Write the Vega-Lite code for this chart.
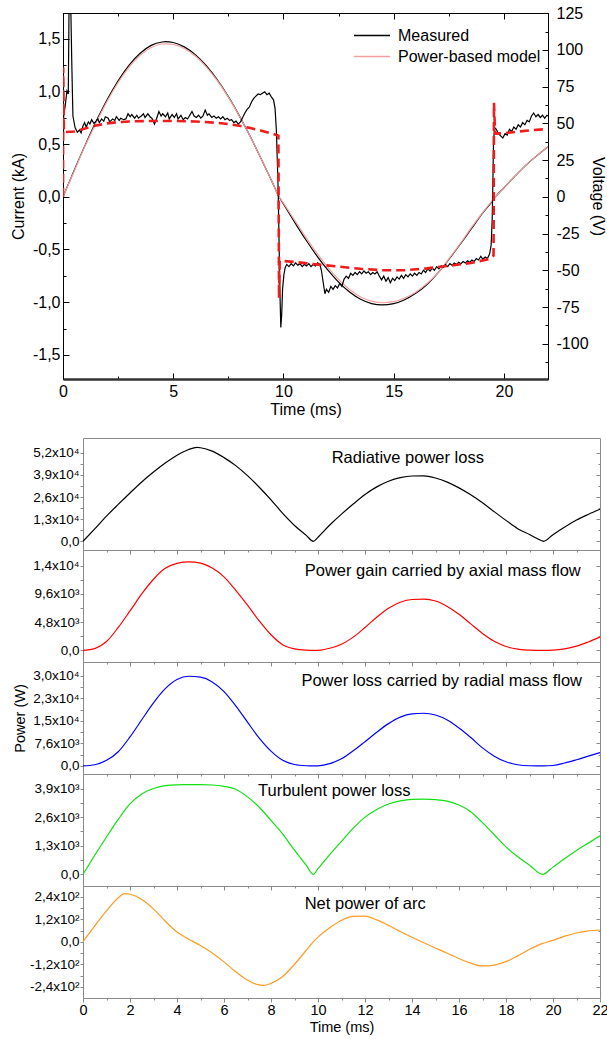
{
  "$schema": "https://vega.github.io/schema/vega-lite/v6.json",
  "padding": {"left": 9, "top": 4, "right": 0, "bottom": 0},
  "spacing": 19,
  "config": {
    "font": "Liberation Sans",
    "view": {"stroke": null},
    "axis": {"titleFontWeight": "normal", "labelColor": "#000000", "titleColor": "#000000", "grid": false, "labelFlush": false, "labelOverlap": false, "labelFont": "Liberation Sans", "titleFont": "Liberation Sans"},
    "legend": {"labelFont": "Liberation Sans", "labelFontSize": 16, "labelColor": "#000000"},
    "title": {"font": "Liberation Sans", "fontWeight": "normal", "color": "#000000"}
  },
  "datasets": {
    "cur": [
      {"t": 0, "I": 0, "src": "Measured"}, {"t": 0.5, "I": 0.247, "src": "Measured"}, {"t": 1, "I": 0.487, "src": "Measured"}, {"t": 1.5, "I": 0.713, "src": "Measured"}, {"t": 2, "I": 0.919, "src": "Measured"}, {"t": 2.5, "I": 1.099, "src": "Measured"}, {"t": 3, "I": 1.248, "src": "Measured"}, {"t": 3.5, "I": 1.36, "src": "Measured"}, {"t": 4, "I": 1.435, "src": "Measured"}, {"t": 4.5, "I": 1.467, "src": "Measured"}, {"t": 4.65, "I": 1.47, "src": "Measured"}, {"t": 5, "I": 1.462, "src": "Measured"}, {"t": 5.5, "I": 1.421, "src": "Measured"}, {"t": 6, "I": 1.347, "src": "Measured"}, {"t": 6.5, "I": 1.242, "src": "Measured"}, {"t": 7, "I": 1.108, "src": "Measured"}, {"t": 7.5, "I": 0.949, "src": "Measured"}, {"t": 8, "I": 0.767, "src": "Measured"}, {"t": 8.5, "I": 0.568, "src": "Measured"}, {"t": 9, "I": 0.355, "src": "Measured"}, {"t": 9.5, "I": 0.135, "src": "Measured"}, {"t": 9.8, "I": 0, "src": "Measured"}, {"t": 10, "I": -0.069, "src": "Measured"}, {"t": 10.5, "I": -0.239, "src": "Measured"}, {"t": 11, "I": -0.403, "src": "Measured"}, {"t": 11.5, "I": -0.555, "src": "Measured"}, {"t": 12, "I": -0.692, "src": "Measured"}, {"t": 12.5, "I": -0.809, "src": "Measured"}, {"t": 13, "I": -0.903, "src": "Measured"}, {"t": 13.5, "I": -0.972, "src": "Measured"}, {"t": 14, "I": -1.013, "src": "Measured"}, {"t": 14.47, "I": -1.026, "src": "Measured"}, {"t": 15, "I": -1.013, "src": "Measured"}, {"t": 15.5, "I": -0.976, "src": "Measured"}, {"t": 16, "I": -0.916, "src": "Measured"}, {"t": 16.5, "I": -0.835, "src": "Measured"}, {"t": 17, "I": -0.725, "src": "Measured"}, {"t": 17.5, "I": -0.595, "src": "Measured"}, {"t": 18, "I": -0.455, "src": "Measured"}, {"t": 18.5, "I": -0.31, "src": "Measured"}, {"t": 19, "I": -0.165, "src": "Measured"}, {"t": 19.5, "I": -0.035, "src": "Measured"}, {"t": 19.62, "I": 0, "src": "Measured"}, {"t": 20, "I": 0.085, "src": "Measured"}, {"t": 20.5, "I": 0.195, "src": "Measured"}, {"t": 21, "I": 0.3, "src": "Measured"}, {"t": 21.5, "I": 0.39, "src": "Measured"}, {"t": 22, "I": 0.475, "src": "Measured"},
      {"t": 0, "I": 0, "src": "Power-based model"}, {"t": 0.5, "I": 0.24, "src": "Power-based model"}, {"t": 1, "I": 0.48, "src": "Power-based model"}, {"t": 1.5, "I": 0.7, "src": "Power-based model"}, {"t": 2, "I": 0.905, "src": "Power-based model"}, {"t": 2.5, "I": 1.083, "src": "Power-based model"}, {"t": 3, "I": 1.23, "src": "Power-based model"}, {"t": 3.5, "I": 1.342, "src": "Power-based model"}, {"t": 4, "I": 1.415, "src": "Power-based model"}, {"t": 4.5, "I": 1.448, "src": "Power-based model"}, {"t": 4.7, "I": 1.45, "src": "Power-based model"}, {"t": 5, "I": 1.443, "src": "Power-based model"}, {"t": 5.5, "I": 1.405, "src": "Power-based model"}, {"t": 6, "I": 1.335, "src": "Power-based model"}, {"t": 6.5, "I": 1.232, "src": "Power-based model"}, {"t": 7, "I": 1.1, "src": "Power-based model"}, {"t": 7.5, "I": 0.944, "src": "Power-based model"}, {"t": 8, "I": 0.765, "src": "Power-based model"}, {"t": 8.5, "I": 0.567, "src": "Power-based model"}, {"t": 9, "I": 0.355, "src": "Power-based model"}, {"t": 9.5, "I": 0.135, "src": "Power-based model"}, {"t": 9.8, "I": 0, "src": "Power-based model"}, {"t": 10, "I": -0.06, "src": "Power-based model"}, {"t": 10.5, "I": -0.22, "src": "Power-based model"}, {"t": 11, "I": -0.38, "src": "Power-based model"}, {"t": 11.5, "I": -0.53, "src": "Power-based model"}, {"t": 12, "I": -0.665, "src": "Power-based model"}, {"t": 12.5, "I": -0.785, "src": "Power-based model"}, {"t": 13, "I": -0.88, "src": "Power-based model"}, {"t": 13.5, "I": -0.95, "src": "Power-based model"}, {"t": 14, "I": -0.99, "src": "Power-based model"}, {"t": 14.5, "I": -1.005, "src": "Power-based model"}, {"t": 15, "I": -0.995, "src": "Power-based model"}, {"t": 15.5, "I": -0.96, "src": "Power-based model"}, {"t": 16, "I": -0.905, "src": "Power-based model"}, {"t": 16.5, "I": -0.825, "src": "Power-based model"}, {"t": 17, "I": -0.725, "src": "Power-based model"}, {"t": 17.5, "I": -0.59, "src": "Power-based model"}, {"t": 18, "I": -0.45, "src": "Power-based model"}, {"t": 18.5, "I": -0.3, "src": "Power-based model"}, {"t": 19, "I": -0.16, "src": "Power-based model"}, {"t": 19.5, "I": -0.03, "src": "Power-based model"}, {"t": 19.62, "I": 0, "src": "Power-based model"}, {"t": 20, "I": 0.085, "src": "Power-based model"}, {"t": 20.5, "I": 0.195, "src": "Power-based model"}, {"t": 21, "I": 0.3, "src": "Power-based model"}, {"t": 21.5, "I": 0.39, "src": "Power-based model"}, {"t": 22, "I": 0.475, "src": "Power-based model"}
    ],
    "vm": [
      {"t": 0, "V": 0}, {"t": 0.03, "V": 55}, {"t": 0.1, "V": 62}, {"t": 0.18, "V": 72}, {"t": 0.24, "V": 70}, {"t": 0.28, "V": 140}, {"t": 0.34, "V": 140}, {"t": 0.4, "V": 90}, {"t": 0.45, "V": 55}, {"t": 0.55, "V": 47}, {"t": 0.65, "V": 44}, {"t": 0.75, "V": 45.5}, {"t": 0.82, "V": 43.5}, {"t": 0.9, "V": 48}, {"t": 0.98, "V": 50.5}, {"t": 1.05, "V": 47.5}, {"t": 1.15, "V": 51}, {"t": 1.22, "V": 49.5}, {"t": 1.3, "V": 52.5}, {"t": 1.4, "V": 50}, {"t": 1.5, "V": 51.5}, {"t": 1.58, "V": 53}, {"t": 1.65, "V": 50.5}, {"t": 1.75, "V": 53}, {"t": 1.85, "V": 51.5}, {"t": 1.92, "V": 54.5}, {"t": 2.05, "V": 53.5}, {"t": 2.12, "V": 51}, {"t": 2.25, "V": 53}, {"t": 2.35, "V": 52}, {"t": 2.42, "V": 54.5}, {"t": 2.55, "V": 52}, {"t": 2.62, "V": 53.5}, {"t": 2.75, "V": 52.5}, {"t": 2.85, "V": 53}, {"t": 2.95, "V": 56.5}, {"t": 3.05, "V": 54.5}, {"t": 3.12, "V": 56}, {"t": 3.25, "V": 53.5}, {"t": 3.35, "V": 55.5}, {"t": 3.42, "V": 53.5}, {"t": 3.55, "V": 55}, {"t": 3.65, "V": 56.5}, {"t": 3.72, "V": 54}, {"t": 3.85, "V": 56.5}, {"t": 3.95, "V": 54.5}, {"t": 4.05, "V": 53}, {"t": 4.15, "V": 49.5}, {"t": 4.25, "V": 53.5}, {"t": 4.35, "V": 58}, {"t": 4.45, "V": 55}, {"t": 4.52, "V": 56.5}, {"t": 4.65, "V": 54.5}, {"t": 4.75, "V": 57}, {"t": 4.82, "V": 53}, {"t": 4.95, "V": 56}, {"t": 5.05, "V": 54}, {"t": 5.15, "V": 56.5}, {"t": 5.22, "V": 53}, {"t": 5.35, "V": 55.5}, {"t": 5.45, "V": 52.5}, {"t": 5.55, "V": 54}, {"t": 5.65, "V": 53}, {"t": 5.75, "V": 55.5}, {"t": 5.85, "V": 58}, {"t": 5.95, "V": 55}, {"t": 6.05, "V": 54}, {"t": 6.15, "V": 55.5}, {"t": 6.25, "V": 53.5}, {"t": 6.35, "V": 55}, {"t": 6.45, "V": 59}, {"t": 6.55, "V": 55.5}, {"t": 6.62, "V": 56.5}, {"t": 6.75, "V": 54}, {"t": 6.85, "V": 55}, {"t": 6.95, "V": 53.5}, {"t": 7.05, "V": 54.5}, {"t": 7.15, "V": 53}, {"t": 7.25, "V": 54.5}, {"t": 7.35, "V": 52.5}, {"t": 7.45, "V": 53.5}, {"t": 7.55, "V": 52}, {"t": 7.65, "V": 52.5}, {"t": 7.75, "V": 50.5}, {"t": 7.85, "V": 51.5}, {"t": 7.95, "V": 49.5}, {"t": 8.05, "V": 51}, {"t": 8.15, "V": 54}, {"t": 8.25, "V": 57}, {"t": 8.35, "V": 59.5}, {"t": 8.45, "V": 61}, {"t": 8.55, "V": 64.5}, {"t": 8.65, "V": 67}, {"t": 8.75, "V": 68.5}, {"t": 8.85, "V": 70}, {"t": 8.95, "V": 69.5}, {"t": 9.05, "V": 70.5}, {"t": 9.15, "V": 71.5}, {"t": 9.25, "V": 69.5}, {"t": 9.35, "V": 70.5}, {"t": 9.45, "V": 68}, {"t": 9.55, "V": 66}, {"t": 9.62, "V": 60}, {"t": 9.68, "V": 45}, {"t": 9.72, "V": 25}, {"t": 9.76, "V": 5}, {"t": 9.8, "V": -30}, {"t": 9.84, "V": -65}, {"t": 9.88, "V": -89}, {"t": 9.92, "V": -80}, {"t": 9.96, "V": -63}, {"t": 10.02, "V": -53}, {"t": 10.08, "V": -48}, {"t": 10.15, "V": -46}, {"t": 10.25, "V": -47.5}, {"t": 10.35, "V": -45.5}, {"t": 10.45, "V": -47}, {"t": 10.55, "V": -45}, {"t": 10.65, "V": -46.5}, {"t": 10.75, "V": -45.5}, {"t": 10.85, "V": -47.5}, {"t": 10.95, "V": -46}, {"t": 11.05, "V": -47}, {"t": 11.15, "V": -45.5}, {"t": 11.25, "V": -47.5}, {"t": 11.35, "V": -46}, {"t": 11.45, "V": -47}, {"t": 11.55, "V": -45}, {"t": 11.65, "V": -46}, {"t": 11.72, "V": -50}, {"t": 11.8, "V": -58}, {"t": 11.88, "V": -66}, {"t": 11.95, "V": -63}, {"t": 12.05, "V": -65}, {"t": 12.15, "V": -61}, {"t": 12.25, "V": -63}, {"t": 12.35, "V": -60.5}, {"t": 12.45, "V": -62}, {"t": 12.55, "V": -59}, {"t": 12.65, "V": -61}, {"t": 12.75, "V": -56}, {"t": 12.85, "V": -54}, {"t": 12.95, "V": -55.5}, {"t": 13.05, "V": -52}, {"t": 13.15, "V": -53.5}, {"t": 13.25, "V": -51.5}, {"t": 13.35, "V": -53}, {"t": 13.45, "V": -51}, {"t": 13.55, "V": -52.5}, {"t": 13.65, "V": -50.5}, {"t": 13.75, "V": -52}, {"t": 13.85, "V": -51}, {"t": 13.95, "V": -53}, {"t": 14.05, "V": -51.5}, {"t": 14.15, "V": -52.5}, {"t": 14.25, "V": -51}, {"t": 14.35, "V": -54}, {"t": 14.45, "V": -56.5}, {"t": 14.55, "V": -54}, {"t": 14.65, "V": -57.5}, {"t": 14.75, "V": -55}, {"t": 14.85, "V": -58.5}, {"t": 14.95, "V": -55.5}, {"t": 15.05, "V": -57}, {"t": 15.15, "V": -54.5}, {"t": 15.25, "V": -56}, {"t": 15.35, "V": -53.5}, {"t": 15.45, "V": -55.5}, {"t": 15.55, "V": -53}, {"t": 15.65, "V": -54.5}, {"t": 15.75, "V": -52.5}, {"t": 15.85, "V": -54}, {"t": 15.95, "V": -52}, {"t": 16.05, "V": -53.5}, {"t": 16.15, "V": -51.5}, {"t": 16.25, "V": -52.5}, {"t": 16.35, "V": -50}, {"t": 16.45, "V": -51.5}, {"t": 16.55, "V": -49}, {"t": 16.65, "V": -50.5}, {"t": 16.75, "V": -48.5}, {"t": 16.85, "V": -50}, {"t": 16.95, "V": -47.5}, {"t": 17.05, "V": -49}, {"t": 17.15, "V": -47}, {"t": 17.25, "V": -48}, {"t": 17.35, "V": -46}, {"t": 17.45, "V": -47.5}, {"t": 17.55, "V": -45.5}, {"t": 17.65, "V": -46.5}, {"t": 17.75, "V": -45}, {"t": 17.85, "V": -46}, {"t": 17.95, "V": -44.5}, {"t": 18.05, "V": -45.5}, {"t": 18.15, "V": -44}, {"t": 18.25, "V": -45}, {"t": 18.35, "V": -43.5}, {"t": 18.45, "V": -44.5}, {"t": 18.55, "V": -43}, {"t": 18.65, "V": -44}, {"t": 18.75, "V": -42}, {"t": 18.85, "V": -43}, {"t": 18.95, "V": -40.5}, {"t": 19.05, "V": -42.5}, {"t": 19.15, "V": -41}, {"t": 19.25, "V": -42}, {"t": 19.35, "V": -39}, {"t": 19.42, "V": -33}, {"t": 19.47, "V": -15}, {"t": 19.5, "V": 10}, {"t": 19.53, "V": 38}, {"t": 19.58, "V": 47}, {"t": 19.65, "V": 46}, {"t": 19.75, "V": 43}, {"t": 19.85, "V": 41.5}, {"t": 19.95, "V": 40}, {"t": 20.05, "V": 43}, {"t": 20.15, "V": 42}, {"t": 20.25, "V": 46}, {"t": 20.35, "V": 44.5}, {"t": 20.45, "V": 47.5}, {"t": 20.55, "V": 46}, {"t": 20.65, "V": 49}, {"t": 20.75, "V": 47.5}, {"t": 20.85, "V": 50.5}, {"t": 20.95, "V": 49}, {"t": 21.05, "V": 52}, {"t": 21.15, "V": 51}, {"t": 21.25, "V": 55}, {"t": 21.35, "V": 57}, {"t": 21.45, "V": 54.5}, {"t": 21.55, "V": 56}, {"t": 21.65, "V": 54}, {"t": 21.75, "V": 55.5}, {"t": 21.85, "V": 53.5}, {"t": 21.95, "V": 55.5}, {"t": 22, "V": 55}
    ],
    "vp": [
      {"t": 0, "V": 0}, {"t": 0.01, "V": 88}, {"t": 0.04, "V": 44}, {"t": 0.5, "V": 44.5}, {"t": 1, "V": 46.5}, {"t": 1.5, "V": 48.5}, {"t": 2, "V": 50}, {"t": 2.5, "V": 50.8}, {"t": 3, "V": 51.3}, {"t": 4, "V": 51.6}, {"t": 5, "V": 51.6}, {"t": 6, "V": 51.3}, {"t": 7, "V": 50.3}, {"t": 7.5, "V": 49.5}, {"t": 8, "V": 48.3}, {"t": 8.5, "V": 46.8}, {"t": 9, "V": 45}, {"t": 9.5, "V": 43}, {"t": 9.77, "V": 41.6}, {"t": 9.8, "V": -69}, {"t": 9.83, "V": -43.5}, {"t": 10.5, "V": -44.3}, {"t": 11.5, "V": -46}, {"t": 12.5, "V": -47.5}, {"t": 13.5, "V": -49}, {"t": 14.5, "V": -50}, {"t": 15.5, "V": -50}, {"t": 16.5, "V": -48.7}, {"t": 17.5, "V": -47}, {"t": 18.5, "V": -45}, {"t": 19.3, "V": -42.5}, {"t": 19.53, "V": -40}, {"t": 19.55, "V": 64}, {"t": 19.6, "V": 43}, {"t": 20, "V": 43.3}, {"t": 21, "V": 45}, {"t": 22, "V": 46.2}
    ],
    "rad": [
      {"t": 0, "P": 0}, {"t": 0.5, "P": 7300}, {"t": 1, "P": 14800}, {"t": 1.5, "P": 21700}, {"t": 2, "P": 28400}, {"t": 2.5, "P": 34900}, {"t": 3, "P": 40700}, {"t": 3.5, "P": 46000}, {"t": 4, "P": 50600}, {"t": 4.5, "P": 54000}, {"t": 4.85, "P": 55200}, {"t": 5, "P": 55000}, {"t": 5.5, "P": 53000}, {"t": 6, "P": 49200}, {"t": 6.5, "P": 44500}, {"t": 7, "P": 38600}, {"t": 7.5, "P": 31800}, {"t": 8, "P": 24400}, {"t": 8.5, "P": 16400}, {"t": 9, "P": 9300}, {"t": 9.5, "P": 3500}, {"t": 9.8, "P": 0}, {"t": 10, "P": 2400}, {"t": 10.5, "P": 9600}, {"t": 11, "P": 16000}, {"t": 11.5, "P": 21900}, {"t": 12, "P": 27500}, {"t": 12.5, "P": 32000}, {"t": 13, "P": 35300}, {"t": 13.5, "P": 37400}, {"t": 14, "P": 38400}, {"t": 14.5, "P": 38500}, {"t": 15, "P": 37200}, {"t": 15.5, "P": 34800}, {"t": 16, "P": 31400}, {"t": 16.5, "P": 27300}, {"t": 17, "P": 22600}, {"t": 17.5, "P": 17400}, {"t": 18, "P": 12300}, {"t": 18.5, "P": 7400}, {"t": 19, "P": 4000}, {"t": 19.5, "P": 500}, {"t": 19.6, "P": 0}, {"t": 20, "P": 3900}, {"t": 20.5, "P": 8400}, {"t": 21, "P": 12500}, {"t": 21.5, "P": 15800}, {"t": 22, "P": 18800}
    ],
    "axl": [
      {"t": 0, "P": 0}, {"t": 0.5, "P": 300}, {"t": 1, "P": 1500}, {"t": 1.5, "P": 3900}, {"t": 2, "P": 6700}, {"t": 2.5, "P": 9600}, {"t": 3, "P": 12100}, {"t": 3.5, "P": 13950}, {"t": 4, "P": 14800}, {"t": 4.5, "P": 15050}, {"t": 5, "P": 14850}, {"t": 5.5, "P": 14000}, {"t": 6, "P": 12500}, {"t": 6.5, "P": 10200}, {"t": 7, "P": 7700}, {"t": 7.5, "P": 5000}, {"t": 8, "P": 2650}, {"t": 8.5, "P": 950}, {"t": 9, "P": 250}, {"t": 9.5, "P": 30}, {"t": 9.8, "P": 0}, {"t": 10, "P": 10}, {"t": 10.5, "P": 360}, {"t": 11, "P": 1050}, {"t": 11.5, "P": 2250}, {"t": 12, "P": 3890}, {"t": 12.5, "P": 5630}, {"t": 13, "P": 7170}, {"t": 13.5, "P": 8190}, {"t": 14, "P": 8650}, {"t": 14.5, "P": 8700}, {"t": 15, "P": 8400}, {"t": 15.5, "P": 7475}, {"t": 16, "P": 6140}, {"t": 16.5, "P": 4500}, {"t": 17, "P": 2870}, {"t": 17.5, "P": 1540}, {"t": 18, "P": 665}, {"t": 18.5, "P": 205}, {"t": 19, "P": 30}, {"t": 19.6, "P": 0}, {"t": 20, "P": 41}, {"t": 20.5, "P": 256}, {"t": 21, "P": 717}, {"t": 21.5, "P": 1430}, {"t": 22, "P": 2250}
    ],
    "radl": [
      {"t": 0, "P": 0}, {"t": 0.5, "P": 400}, {"t": 1, "P": 1900}, {"t": 1.5, "P": 4800}, {"t": 2, "P": 9800}, {"t": 2.5, "P": 15600}, {"t": 3, "P": 21300}, {"t": 3.5, "P": 26100}, {"t": 4, "P": 29200}, {"t": 4.5, "P": 30300}, {"t": 5, "P": 30000}, {"t": 5.5, "P": 28400}, {"t": 6, "P": 25100}, {"t": 6.5, "P": 20300}, {"t": 7, "P": 14800}, {"t": 7.5, "P": 9400}, {"t": 8, "P": 5000}, {"t": 8.5, "P": 1900}, {"t": 9, "P": 500}, {"t": 9.5, "P": 60}, {"t": 9.8, "P": 0}, {"t": 10, "P": 50}, {"t": 10.5, "P": 800}, {"t": 11, "P": 2400}, {"t": 11.5, "P": 5100}, {"t": 12, "P": 8200}, {"t": 12.5, "P": 11400}, {"t": 13, "P": 14300}, {"t": 13.5, "P": 16500}, {"t": 14, "P": 17600}, {"t": 14.5, "P": 17800}, {"t": 15, "P": 17200}, {"t": 15.5, "P": 15500}, {"t": 16, "P": 12800}, {"t": 16.5, "P": 9600}, {"t": 17, "P": 6100}, {"t": 17.5, "P": 3300}, {"t": 18, "P": 1400}, {"t": 18.5, "P": 400}, {"t": 19, "P": 60}, {"t": 19.6, "P": 0}, {"t": 20, "P": 150}, {"t": 20.5, "P": 1000}, {"t": 21, "P": 2100}, {"t": 21.5, "P": 3300}, {"t": 22, "P": 4500}
    ],
    "turb": [
      {"t": 0, "P": 0}, {"t": 0.5, "P": 870}, {"t": 1, "P": 1700}, {"t": 1.5, "P": 2500}, {"t": 2, "P": 3200}, {"t": 2.5, "P": 3650}, {"t": 3, "P": 3900}, {"t": 3.5, "P": 4030}, {"t": 4, "P": 4070}, {"t": 4.5, "P": 4075}, {"t": 5, "P": 4075}, {"t": 5.5, "P": 4060}, {"t": 6, "P": 4000}, {"t": 6.5, "P": 3870}, {"t": 7, "P": 3520}, {"t": 7.5, "P": 3050}, {"t": 8, "P": 2450}, {"t": 8.5, "P": 1830}, {"t": 9, "P": 1100}, {"t": 9.5, "P": 420}, {"t": 9.8, "P": 0}, {"t": 10, "P": 260}, {"t": 10.5, "P": 900}, {"t": 11, "P": 1500}, {"t": 11.5, "P": 2100}, {"t": 12, "P": 2600}, {"t": 12.5, "P": 2950}, {"t": 13, "P": 3200}, {"t": 13.5, "P": 3340}, {"t": 14, "P": 3410}, {"t": 14.5, "P": 3420}, {"t": 15, "P": 3400}, {"t": 15.5, "P": 3330}, {"t": 16, "P": 3150}, {"t": 16.5, "P": 2850}, {"t": 17, "P": 2350}, {"t": 17.5, "P": 1800}, {"t": 18, "P": 1250}, {"t": 18.5, "P": 800}, {"t": 19, "P": 420}, {"t": 19.56, "P": 0}, {"t": 20, "P": 330}, {"t": 20.5, "P": 720}, {"t": 21, "P": 1090}, {"t": 21.5, "P": 1420}, {"t": 22, "P": 1750}
    ],
    "net": [
      {"t": 0, "P": 0}, {"t": 0.5, "P": 85}, {"t": 1, "P": 165}, {"t": 1.5, "P": 235}, {"t": 1.75, "P": 257}, {"t": 2, "P": 254}, {"t": 2.5, "P": 226}, {"t": 3, "P": 176}, {"t": 3.5, "P": 110}, {"t": 4, "P": 52}, {"t": 4.5, "P": 14}, {"t": 5, "P": -20}, {"t": 5.5, "P": -60}, {"t": 6, "P": -107}, {"t": 6.5, "P": -160}, {"t": 7, "P": -205}, {"t": 7.5, "P": -230}, {"t": 7.7, "P": -233}, {"t": 8, "P": -222}, {"t": 8.5, "P": -185}, {"t": 9, "P": -120}, {"t": 9.5, "P": -45}, {"t": 9.8, "P": 0}, {"t": 10, "P": 25}, {"t": 10.5, "P": 75}, {"t": 11, "P": 115}, {"t": 11.5, "P": 136}, {"t": 12, "P": 137}, {"t": 12.5, "P": 117}, {"t": 13, "P": 88}, {"t": 13.5, "P": 55}, {"t": 14, "P": 24}, {"t": 14.5, "P": -5}, {"t": 15, "P": -33}, {"t": 15.5, "P": -61}, {"t": 16, "P": -89}, {"t": 16.5, "P": -114}, {"t": 17, "P": -129}, {"t": 17.5, "P": -124}, {"t": 18, "P": -106}, {"t": 18.5, "P": -75}, {"t": 19, "P": -40}, {"t": 19.5, "P": -11}, {"t": 20, "P": 8}, {"t": 20.5, "P": 30}, {"t": 21, "P": 47}, {"t": 21.5, "P": 58}, {"t": 22, "P": 63}
    ]
  },
  "vconcat": [
    {
      "width": 485,
      "height": 366,
      "view": {"stroke": "#000000", "strokeWidth": 1},
      "layer": [
        {
          "data": {"name": "cur"},
          "mark": {"type": "line", "strokeWidth": 1.2, "interpolate": "monotone", "clip": true},
          "encoding": {
            "x": {"field": "t", "type": "quantitative", "scale": {"domain": [0, 22], "nice": false, "zero": false},
              "axis": {"orient": "bottom", "values": [0, 2.5, 5, 7.5, 10, 12.5, 15, 17.5, 20], "labelExpr": "datum.value % 5 == 0 ? format(datum.value, 'd') : ''", "tickSize": {"condition": {"test": "datum.value % 5 == 0", "value": -6}, "value": -3}, "tickColor": "#000000", "labelPadding": 10, "labelFontSize": 16, "title": "Time (ms)", "titleFontSize": 16, "titlePadding": -1, "domainColor": "#333333", "domainWidth": 2.5}},
            "y": {"field": "I", "type": "quantitative", "scale": {"domain": [-1.728, 1.742], "nice": false, "zero": false},
              "axis": {"orient": "left", "values": [-1.5, -1.25, -1, -0.75, -0.5, -0.25, 0, 0.25, 0.5, 0.75, 1, 1.25, 1.5], "labelExpr": "abs(datum.value * 2 - round(datum.value * 2)) < 0.01 ? replace(replace(format(datum.value, '.1f'), '.', ','), '\u2212', '-') : ''", "tickSize": {"condition": {"test": "abs(datum.value * 2 - round(datum.value * 2)) < 0.01", "value": -6}, "value": -3}, "tickColor": "#000000", "domainColor": "#000000", "labelPadding": 9, "labelFontSize": 16, "title": "Current (kA)", "titleFontSize": 16, "titlePadding": 6}},
            "color": {"field": "src", "type": "nominal", "scale": {"domain": ["Measured", "Power-based model"], "range": ["#000000", "#f5a0a0"]},
              "legend": {"orient": "none", "legendX": 298, "legendY": 11.5, "title": null, "symbolType": "M-1.8,0H1.8", "symbolSize": 400, "symbolStrokeWidth": 1.3, "symbolFillColor": "transparent", "labelFontSize": 16, "labelOffset": 15, "rowPadding": 2}}
          }
        },
        {
          "encoding": {
            "x": {"field": "t", "type": "quantitative", "scale": {"domain": [0, 22], "nice": false, "zero": false},
              "axis": {"orient": "top", "values": [0, 2.5, 5, 7.5, 10, 12.5, 15, 17.5, 20], "labels": false, "domain": false, "title": null, "tickColor": "#000000", "tickSize": {"condition": {"test": "datum.value % 5 == 0", "value": -6}, "value": -3}}},
            "y": {"field": "V", "type": "quantitative", "scale": {"domain": [-124, 125.1], "nice": false, "zero": false},
              "axis": {"orient": "right", "values": [-125, -112.5, -100, -87.5, -75, -62.5, -50, -37.5, -25, -12.5, 0, 12.5, 25, 37.5, 50, 62.5, 75, 87.5, 100, 112.5, 125], "labelExpr": "datum.value % 25 == 0 ? replace(format(datum.value, 'd'), '\u2212', '-') : ''", "tickSize": {"condition": {"test": "datum.value % 25 == 0", "value": -6}, "value": -3}, "tickColor": "#000000", "domainColor": "#000000", "labelPadding": 14, "labelFontSize": 16, "title": "Voltage (V)", "titleFontSize": 16, "titlePadding": 1}}
          },
          "layer": [
            {"data": {"name": "vm"}, "mark": {"type": "line", "color": "#000000", "strokeWidth": 1.2, "clip": true}},
            {"data": {"name": "vp"}, "mark": {"type": "line", "color": "#f01c1c", "strokeWidth": 2.6, "strokeDash": [9, 5], "clip": true}}
          ]
        }
      ],
      "resolve": {"scale": {"y": "independent"}, "axis": {"x": "independent", "y": "independent"}}
    },
    {
      "spacing": 0,
      "bounds": "flush",
      "hconcat": [
        {
          "width": 20, "height": 10,
          "data": {"values": [{"a": 0}]},
          "mark": {"type": "point", "opacity": 0},
          "encoding": {}
        },
        {
          "spacing": 0,
          "bounds": "flush",
          "vconcat": [
            {
              "width": 517, "height": 112,
              "view": {"stroke": "#8a8a8a"},
              "title": {"text": "Radiative power loss", "orient": "top", "anchor": "start", "frame": "group", "offset": -28.5, "dx": 248.7, "fontSize": 16.5},
              "data": {"name": "rad"},
              "encoding": {"x": {"field": "t", "type": "quantitative", "scale": {"domain": [0, 22], "nice": false, "zero": false},
                "axis": {"orient": "bottom", "values": [0,1,2,3,4,5,6,7,8,9,10,11,12,13,14,15,16,17,18,19,20,21,22], "labels": false, "domain": false, "title": null, "tickColor": "#8a8a8a", "tickSize": {"condition": {"test": "datum.value % 2 == 0", "value": 4}, "value": 2}}}},
              "layer": [
                {"mark": {"type": "line", "color": "#000000", "strokeWidth": 1.2, "interpolate": "monotone"},
                 "encoding": {"y": {"field": "P", "type": "quantitative", "scale": {"domain": [-5120, 60740], "nice": false, "zero": false},
                   "axis": {"orient": "left", "values": [0, 6500, 13000, 19500, 26000, 32500, 39000, 45500, 52000], "labelExpr": "indexof([0, 13000, 26000, 39000, 52000], datum.value) < 0 ? '' : datum.value == 0 ? '0,0' : (datum.value < 0 ? '-' : '') + replace(format(abs(datum.value) / pow(10, floor(log(abs(datum.value)) / LN10)), '.1f'), '.', ',') + 'x10' + (floor(log(abs(datum.value)) / LN10) == 2 ? '²' : floor(log(abs(datum.value)) / LN10) == 3 ? '³' : '⁴')", "tickSize": 3, "tickColor": "#8a8a8a", "domain": false, "labelPadding": 1, "labelFontSize": 13.5, "title": null}}}},
                {"mark": {"type": "line", "opacity": 0},
                 "encoding": {"y": {"field": "P", "type": "quantitative", "axis": {"orient": "right", "values": [0, 6500, 13000, 19500, 26000, 32500, 39000, 45500, 52000], "labels": false, "domain": false, "title": null, "tickColor": "#8a8a8a", "tickSize": {"condition": {"test": "indexof([0, 13000, 26000, 39000, 52000], datum.value) >= 0", "value": -4}, "value": -2}}}}}
              ],
              "resolve": {"axis": {"y": "independent"}}
            },
            {
              "width": 517, "height": 112,
              "view": {"stroke": "#8a8a8a"},
              "title": {"text": "Power gain carried by axial mass flow", "orient": "top", "anchor": "start", "frame": "group", "offset": -29.5, "dx": 221.7, "fontSize": 16.5},
              "data": {"name": "axl"},
              "encoding": {"x": {"field": "t", "type": "quantitative", "scale": {"domain": [0, 22], "nice": false, "zero": false},
                "axis": {"orient": "bottom", "values": [0,1,2,3,4,5,6,7,8,9,10,11,12,13,14,15,16,17,18,19,20,21,22], "labels": false, "domain": false, "title": null, "tickColor": "#8a8a8a", "tickSize": {"condition": {"test": "datum.value % 2 == 0", "value": 4}, "value": 2}}}},
              "layer": [
                {"mark": {"type": "line", "color": "#ff0000", "strokeWidth": 1.2, "interpolate": "monotone"},
                 "encoding": {"y": {"field": "P", "type": "quantitative", "scale": {"domain": [-1980, 17070], "nice": false, "zero": false},
                   "axis": {"orient": "left", "values": [0, 2400, 4800, 7200, 9600, 12000, 14400], "labelExpr": "indexof([0, 4800, 9600, 14400], datum.value) < 0 ? '' : datum.value == 0 ? '0,0' : (datum.value < 0 ? '-' : '') + replace(format(abs(datum.value) / pow(10, floor(log(abs(datum.value)) / LN10)), '.1f'), '.', ',') + 'x10' + (floor(log(abs(datum.value)) / LN10) == 2 ? '²' : floor(log(abs(datum.value)) / LN10) == 3 ? '³' : '⁴')", "tickSize": 3, "tickColor": "#8a8a8a", "domain": false, "labelPadding": 1, "labelFontSize": 13.5, "title": null}}}},
                {"mark": {"type": "line", "opacity": 0},
                 "encoding": {"y": {"field": "P", "type": "quantitative", "axis": {"orient": "right", "values": [0, 2400, 4800, 7200, 9600, 12000, 14400], "labels": false, "domain": false, "title": null, "tickColor": "#8a8a8a", "tickSize": {"condition": {"test": "indexof([0, 4800, 9600, 14400], datum.value) >= 0", "value": -4}, "value": -2}}}}}
              ],
              "resolve": {"axis": {"y": "independent"}}
            },
            {
              "width": 517, "height": 112,
              "view": {"stroke": "#8a8a8a"},
              "title": {"text": "Power loss carried by radial mass flow", "orient": "top", "anchor": "start", "frame": "group", "offset": -27.5, "dx": 218.4, "fontSize": 16.5},
              "data": {"name": "radl"},
              "encoding": {"x": {"field": "t", "type": "quantitative", "scale": {"domain": [0, 22], "nice": false, "zero": false},
                "axis": {"orient": "bottom", "values": [0,1,2,3,4,5,6,7,8,9,10,11,12,13,14,15,16,17,18,19,20,21,22], "labels": false, "domain": false, "title": null, "tickColor": "#8a8a8a", "tickSize": {"condition": {"test": "datum.value % 2 == 0", "value": 4}, "value": 2}}}},
              "layer": [
                {"mark": {"type": "line", "color": "#0000ff", "strokeWidth": 1.2, "interpolate": "monotone"},
                 "encoding": {"y": {"field": "P", "type": "quantitative", "scale": {"domain": [-2720, 35120], "nice": false, "zero": false},
                   "axis": {"orient": "left", "values": [0, 3800, 7600, 11400, 15200, 19000, 22800, 26600, 30400], "labelExpr": "indexof([0, 7600, 15200, 22800, 30400], datum.value) < 0 ? '' : datum.value == 0 ? '0,0' : (datum.value < 0 ? '-' : '') + replace(format(abs(datum.value) / pow(10, floor(log(abs(datum.value)) / LN10)), '.1f'), '.', ',') + 'x10' + (floor(log(abs(datum.value)) / LN10) == 2 ? '²' : floor(log(abs(datum.value)) / LN10) == 3 ? '³' : '⁴')", "tickSize": 3, "tickColor": "#8a8a8a", "domain": false, "labelPadding": 1, "labelFontSize": 13.5, "title": "Power (W)", "titleFontSize": 14.5, "titlePadding": 5}}}},
                {"mark": {"type": "line", "opacity": 0},
                 "encoding": {"y": {"field": "P", "type": "quantitative", "axis": {"orient": "right", "values": [0, 3800, 7600, 11400, 15200, 19000, 22800, 26600, 30400], "labels": false, "domain": false, "title": null, "tickColor": "#8a8a8a", "tickSize": {"condition": {"test": "indexof([0, 7600, 15200, 22800, 30400], datum.value) >= 0", "value": -4}, "value": -2}}}}}
              ],
              "resolve": {"axis": {"y": "independent"}}
            },
            {
              "width": 517, "height": 112,
              "view": {"stroke": "#8a8a8a"},
              "title": {"text": "Turbulent power loss", "orient": "top", "anchor": "start", "frame": "group", "offset": -25.5, "dx": 175, "fontSize": 16.5},
              "data": {"name": "turb"},
              "encoding": {"x": {"field": "t", "type": "quantitative", "scale": {"domain": [0, 22], "nice": false, "zero": false},
                "axis": {"orient": "bottom", "values": [0,1,2,3,4,5,6,7,8,9,10,11,12,13,14,15,16,17,18,19,20,21,22], "labels": false, "domain": false, "title": null, "tickColor": "#8a8a8a", "tickSize": {"condition": {"test": "datum.value % 2 == 0", "value": 4}, "value": 2}}}},
              "layer": [
                {"mark": {"type": "line", "color": "#10e010", "strokeWidth": 1.2, "interpolate": "monotone"},
                 "encoding": {"y": {"field": "P", "type": "quantitative", "scale": {"domain": [-527, 4560], "nice": false, "zero": false},
                   "axis": {"orient": "left", "values": [0, 650, 1300, 1950, 2600, 3250, 3900], "labelExpr": "indexof([0, 1300, 2600, 3900], datum.value) < 0 ? '' : datum.value == 0 ? '0,0' : (datum.value < 0 ? '-' : '') + replace(format(abs(datum.value) / pow(10, floor(log(abs(datum.value)) / LN10)), '.1f'), '.', ',') + 'x10' + (floor(log(abs(datum.value)) / LN10) == 2 ? '²' : floor(log(abs(datum.value)) / LN10) == 3 ? '³' : '⁴')", "tickSize": 3, "tickColor": "#8a8a8a", "domain": false, "labelPadding": 1, "labelFontSize": 13.5, "title": null}}}},
                {"mark": {"type": "line", "opacity": 0},
                 "encoding": {"y": {"field": "P", "type": "quantitative", "axis": {"orient": "right", "values": [0, 650, 1300, 1950, 2600, 3250, 3900], "labels": false, "domain": false, "title": null, "tickColor": "#8a8a8a", "tickSize": {"condition": {"test": "indexof([0, 1300, 2600, 3900], datum.value) >= 0", "value": -4}, "value": -2}}}}}
              ],
              "resolve": {"axis": {"y": "independent"}}
            },
            {
              "width": 517, "height": 112,
              "view": {"stroke": "#8a8a8a"},
              "title": {"text": "Net power of arc", "orient": "top", "anchor": "start", "frame": "group", "offset": -26.5, "dx": 221.7, "fontSize": 16.5},
              "data": {"name": "net"},
              "encoding": {"x": {"field": "t", "type": "quantitative", "scale": {"domain": [0, 22], "nice": false, "zero": false},
                "axis": {"orient": "bottom", "values": [0,1,2,3,4,5,6,7,8,9,10,11,12,13,14,15,16,17,18,19,20,21,22], "labelExpr": "datum.value % 2 == 0 ? format(datum.value, 'd') : ''", "labelFontSize": 14.5, "labelPadding": 1, "domain": false, "title": "Time (ms)", "titleFontSize": 14.5, "titlePadding": 4, "tickColor": "#8a8a8a", "tickSize": {"condition": {"test": "datum.value % 2 == 0", "value": 4}, "value": 2}}}},
              "layer": [
                {"mark": {"type": "line", "color": "#ff9a22", "strokeWidth": 1.2, "interpolate": "monotone"},
                 "encoding": {"y": {"field": "P", "type": "quantitative", "scale": {"domain": [-300, 298], "nice": false, "zero": false},
                   "axis": {"orient": "left", "values": [-240, -180, -120, -60, 0, 60, 120, 180, 240], "labelExpr": "indexof([-240, -120, 0, 120, 240], datum.value) < 0 ? '' : datum.value == 0 ? '0,0' : (datum.value < 0 ? '-' : '') + replace(format(abs(datum.value) / pow(10, floor(log(abs(datum.value)) / LN10)), '.1f'), '.', ',') + 'x10' + (floor(log(abs(datum.value)) / LN10) == 2 ? '²' : floor(log(abs(datum.value)) / LN10) == 3 ? '³' : '⁴')", "tickSize": 3, "tickColor": "#8a8a8a", "domain": false, "labelPadding": 1, "labelFontSize": 13.5, "title": null}}}},
                {"mark": {"type": "line", "opacity": 0},
                 "encoding": {"y": {"field": "P", "type": "quantitative", "axis": {"orient": "right", "values": [-240, -180, -120, -60, 0, 60, 120, 180, 240], "labels": false, "domain": false, "title": null, "tickColor": "#8a8a8a", "tickSize": {"condition": {"test": "indexof([-240, -120, 0, 120, 240], datum.value) >= 0", "value": -4}, "value": -2}}}}}
              ],
              "resolve": {"axis": {"y": "independent"}}
            }
          ]
        }
      ]
    }
  ]
}
